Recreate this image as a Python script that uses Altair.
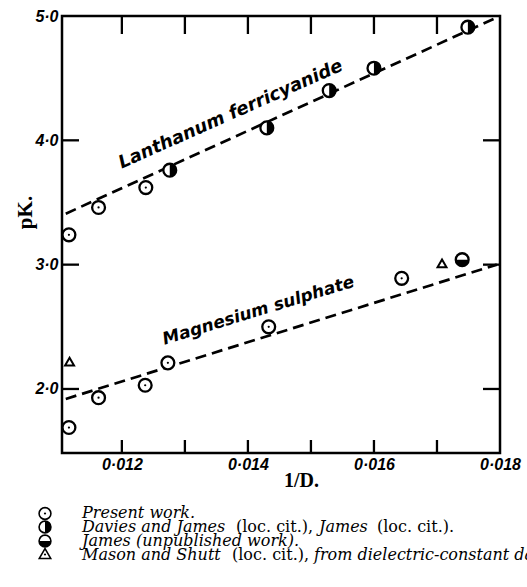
import altair as alt
import pandas as pd

# ---------------- data ----------------
la_present_x = [0.01116, 0.01163, 0.01238]
la_present_y = [3.24, 3.46, 3.62]
la_davies_x = [0.01276, 0.01430, 0.01529, 0.01600, 0.01749]
la_davies_y = [3.76, 4.10, 4.40, 4.58, 4.91]

mg_present_x = [0.01116, 0.01163, 0.01237, 0.01273, 0.01433, 0.01644]
mg_present_y = [1.69, 1.93, 2.03, 2.21, 2.50, 2.89]
mg_james_x = [0.01740]
mg_james_y = [3.04]
mg_mason_x = [0.01117, 0.01708]
mg_mason_y = [2.22, 3.01]

la_fit_x = [0.01111, 0.01800]
la_fit_y = [3.41, 5.00]
mg_fit_x = [0.01111, 0.01795]
mg_fit_y = [1.92, 3.00]

curve_names = ["Lanthanum ferricyanide", "Magnesium sulphate"]
curve_label_x = [0.01376, 0.01419]
curve_label_y = [4.17, 2.59]

x_label_ticks = [0.012, 0.014, 0.016, 0.018]
x_minor_ticks = [0.012, 0.013, 0.014, 0.015, 0.016, 0.017]
y_label_ticks = [2.0, 3.0, 4.0, 5.0]
y_minor_ticks = [2.0, 3.0, 4.0]

legend_symbols = ["present", "davies", "james", "mason"]
legend_segments = [
    # (row, text, style)
    (0, "Present work.", "italic"),
    (1, "Davies and James", "italic"),
    (1, "(loc. cit.),", "normal"),
    (1, "James", "italic"),
    (1, "(loc. cit.).", "normal"),
    (2, "James (unpublished work).", "italic"),
    (3, "Mason and Shutt", "italic"),
    (3, "(loc. cit.),", "normal"),
    (3, "from dielectric-constant data.", "italic"),
]

# ---------------- layout (pixels) ----------------
PL, PT, PR, PB = 62, 16, 27, 134
W, H = 527 - PL - PR, 587 - PT - PB
legend_row_y = [497, 511, 525, 539]
legend_sym_y = [497.5, 511, 525, 537.5]
legend_sym_x = -17
legend_seg_x = [20, 20, 174, 257, 315, 20, 20, 170, 252]
LEGEND_FS = 16

RIGHT_HALF = "M0,-1 A1,1 0 0,1 0,1 Z"
BOTTOM_HALF = "M-1,0 A1,1 0 0,0 1,0 Z"

xscale = alt.Scale(domain=[0.01105, 0.018], nice=False, zero=False)
yscale = alt.Scale(domain=[1.485, 5.0], nice=False, zero=False)

TICKFONT = "Liberation Sans"

ax_x_labels = alt.Axis(
    orient="bottom", values=x_label_ticks,
    labelExpr="replace(format(datum.value, '.3f'), '.', '·')",
    ticks=False, tickSize=0, domain=False, grid=False,
    labelFont=TICKFONT, labelFontSize=16, labelFontWeight="bold",
    labelFontStyle="italic", labelColor="black", labelPadding=3,
    labelFlush=False, labelOverlap=False, labelBaseline="top",
    title="1/D.", titleFont="Liberation Serif", titleFontSize=20,
    titleFontWeight="bold", titleColor="black", titleX=239, titleY=27,
    titleBaseline="middle", titleAlign="center",
)
ax_y_labels = alt.Axis(
    orient="left", values=y_label_ticks,
    labelExpr="replace(format(datum.value, '.1f'), '.', '·')",
    ticks=False, tickSize=0, domain=False, grid=False,
    labelFont=TICKFONT, labelFontSize=16, labelFontWeight="bold",
    labelFontStyle="italic", labelColor="black", labelPadding=4,
    labelFlush=False, labelOverlap=False, labelBaseline="middle",
    title="pK.", titleFont="Liberation Serif", titleFontSize=21,
    titleFontWeight="bold", titleColor="black", titleX=-37, titleY=196,
    titleAngle=270, titleBaseline="middle", titleAlign="center",
)

# ---------------- tables ----------------
df_lines = pd.DataFrame({
    "x": la_fit_x + mg_fit_x,
    "y": la_fit_y + mg_fit_y,
    "curve": [curve_names[0]] * len(la_fit_x) + [curve_names[1]] * len(mg_fit_x),
})
df_circles = pd.DataFrame({
    "x": la_present_x + la_davies_x + mg_present_x + mg_james_x,
    "y": la_present_y + la_davies_y + mg_present_y + mg_james_y,
})
df_present = pd.DataFrame({"x": la_present_x + mg_present_x,
                           "y": la_present_y + mg_present_y})
df_davies = pd.DataFrame({"x": la_davies_x, "y": la_davies_y})
df_james = pd.DataFrame({"x": mg_james_x, "y": mg_james_y})
df_mason = pd.DataFrame({"x": mg_mason_x, "y": mg_mason_y})
df_labels = pd.DataFrame({"x": curve_label_x, "y": curve_label_y, "t": curve_names})
df_xt = pd.DataFrame({"x": x_minor_ticks})
df_yt = pd.DataFrame({"y": y_minor_ticks})


def X(axis=None):
    return alt.X("x:Q", scale=xscale, axis=axis)


def Y(axis=None):
    return alt.Y("y:Q", scale=yscale, axis=axis)


SYM = 165
TW = 2.3

# inward tick marks on all four sides
ticks_bottom = alt.Chart(df_xt).mark_rule(color="black", strokeWidth=TW).encode(
    x=X(), y=alt.value(H - 13), y2=alt.value(H))
ticks_top = alt.Chart(df_xt).mark_rule(color="black", strokeWidth=TW).encode(
    x=X(), y=alt.value(0), y2=alt.value(18))
ticks_left = alt.Chart(df_yt).mark_rule(color="black", strokeWidth=TW).encode(
    y=Y(), x=alt.value(0), x2=alt.value(17))
ticks_right = alt.Chart(df_yt).mark_rule(color="black", strokeWidth=TW).encode(
    y=Y(), x=alt.value(W - 17), x2=alt.value(W))

lines = alt.Chart(df_lines).mark_line(
    color="black", strokeWidth=2.7, strokeDash=[11, 6]
).encode(x=X(ax_x_labels), y=Y(ax_y_labels), detail="curve:N")

circles = alt.Chart(df_circles).mark_point(
    shape="circle", filled=True, fill="white", stroke="black",
    strokeWidth=2.3, size=SYM, opacity=1
).encode(x=X(), y=Y())

dots = alt.Chart(df_present).mark_point(
    shape="circle", filled=True, color="black", size=5, opacity=1
).encode(x=X(), y=Y())

davies = alt.Chart(df_davies).mark_point(
    shape=RIGHT_HALF, filled=True, color="black", size=SYM, opacity=1
).encode(x=X(), y=Y())

james = alt.Chart(df_james).mark_point(
    shape=BOTTOM_HALF, filled=True, color="black", size=SYM, opacity=1
).encode(x=X(), y=Y())

mason = alt.Chart(df_mason).mark_point(
    shape="triangle-up", filled=True, fill="white", stroke="black",
    strokeWidth=2, size=80, opacity=1
).encode(x=X(), y=Y())

lab_la = alt.Chart(df_labels.iloc[[0]]).mark_text(
    font="DejaVu Sans", fontSize=18, fontWeight="bold", fontStyle="italic",
    angle=336, align="center", baseline="alphabetic", color="black"
).encode(x=X(), y=Y(), text="t:N")
lab_mg = alt.Chart(df_labels.iloc[[1]]).mark_text(
    font="DejaVu Sans", fontSize=17, fontWeight="bold", fontStyle="italic",
    angle=343, align="center", baseline="alphabetic", color="black"
).encode(x=X(), y=Y(), text="t:N")

# ---------------- legend below the plot ----------------
legend_layers = []
LS = 140
for i, s in enumerate(legend_symbols):
    ry = legend_sym_y[i]
    base = alt.Chart(pd.DataFrame({"k": [s]}))
    if s == "mason":
        legend_layers.append(base.mark_point(
            shape="triangle-up", filled=True, fill="white", stroke="black",
            strokeWidth=1.6, size=130, opacity=1
        ).encode(x=alt.value(legend_sym_x), y=alt.value(ry)))
        legend_layers.append(base.mark_point(
            shape="circle", filled=True, color="black", size=5, opacity=1
        ).encode(x=alt.value(legend_sym_x), y=alt.value(ry + 1)))
        continue
    legend_layers.append(base.mark_point(
        shape="circle", filled=True, fill="white", stroke="black",
        strokeWidth=1.6, size=LS, opacity=1
    ).encode(x=alt.value(legend_sym_x), y=alt.value(ry)))
    if s == "present":
        legend_layers.append(base.mark_point(
            shape="circle", filled=True, color="black", size=5, opacity=1
        ).encode(x=alt.value(legend_sym_x), y=alt.value(ry)))
    elif s == "davies":
        legend_layers.append(base.mark_point(
            shape=RIGHT_HALF, filled=True, color="black", size=LS, opacity=1
        ).encode(x=alt.value(legend_sym_x), y=alt.value(ry)))
    elif s == "james":
        legend_layers.append(base.mark_point(
            shape=BOTTOM_HALF, filled=True, color="black", size=LS, opacity=1
        ).encode(x=alt.value(legend_sym_x), y=alt.value(ry)))

for (row, txt, style), sx in zip(legend_segments, legend_seg_x):
    legend_layers.append(alt.Chart(pd.DataFrame({"t": [txt]})).mark_text(
        font="DejaVu Serif", fontSize=LEGEND_FS, fontStyle=style, align="left",
        baseline="middle", color="black"
    ).encode(x=alt.value(sx), y=alt.value(legend_row_y[row]), text="t:N"))

chart = alt.layer(
    lines, ticks_bottom, ticks_top, ticks_left, ticks_right,
    circles, davies, james, dots, mason, lab_la, lab_mg, *legend_layers
).resolve_axis(
    x="independent", y="independent"
).properties(
    width=W, height=H,
    autosize=alt.AutoSizeParams(type="none"),
    padding={"left": PL, "top": PT, "right": PR, "bottom": PB},
    background="white",
).configure_view(
    stroke="black", strokeWidth=2.5
)

chart.save("out.html", embed_options={"renderer": "svg", "actions": False})
